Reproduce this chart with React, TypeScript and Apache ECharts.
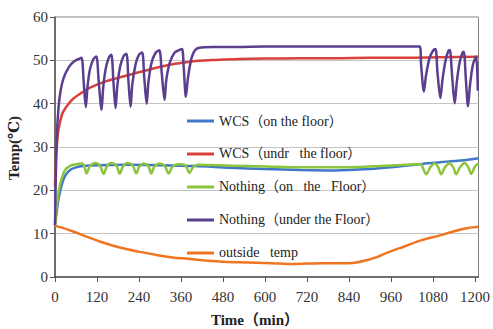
import React, { useEffect, useRef } from "react";
import * as echarts from "echarts";

const seriesNames = [
  "WCS（on the floor）",
  "WCS（undr   the floor）",
  "Nothing（on   the   Floor）",
  "Nothing（under the Floor）",
  "outside   temp",
];

const seriesColors = ["#3f78c6", "#d8403a", "#8cc43e", "#5b3f8e", "#ef7521"];

const xTicks = [0, 120, 240, 360, 480, 600, 720, 840, 960, 1080, 1200];
const yTicks = [0, 10, 20, 30, 40, 50, 60];

const wcsOnFloor: number[][] = [
  [0, 12], [5, 15], [10, 18], [20, 21.5], [30, 23.5], [45, 24.8], [60, 25.3], [80, 25.6],
  [120, 25.8], [200, 25.9], [300, 25.8], [400, 25.6], [500, 25.2], [600, 24.9], [700, 24.7],
  [800, 24.6], [900, 24.9], [960, 25.3], [1000, 25.7], [1050, 26.1], [1100, 26.5],
  [1150, 26.8], [1210, 27.4],
];

const wcsUnderFloor: number[][] = [
  [0, 21], [2, 26], [5, 30], [10, 34], [20, 37.5], [30, 39], [50, 41], [76, 42.5],
  [100, 43.7], [147, 45.2], [200, 46.4], [242, 47.3], [290, 48.3], [336, 49.1],
  [380, 49.6], [410, 49.9], [460, 50.1], [526, 50.3], [600, 50.4], [700, 50.5],
  [800, 50.5], [900, 50.6], [1000, 50.6], [1100, 50.7], [1210, 50.8],
];

const nothingOnFloor: number[][] = [
  [0, 12], [5, 16], [10, 19.5], [20, 23], [30, 24.8], [45, 25.7], [60, 26], [78, 26.2],
  [84, 25.5], [90, 23.9], [100, 25.6], [115, 26.3], [128, 25.8], [139, 23.8], [148, 25.5],
  [160, 26.3], [175, 25.8], [185, 23.8], [194, 25.5], [207, 26.3], [222, 25.8], [232, 23.9],
  [241, 25.5], [253, 26.2], [266, 25.7], [275, 23.9], [284, 25.5], [298, 26.2], [313, 25.7],
  [325, 23.9], [335, 25.4], [350, 26], [372, 25.8], [384, 24], [394, 25.3], [410, 25.9],
  [500, 25.7], [600, 25.5], [700, 25.3], [800, 25.3], [900, 25.5], [1000, 25.9],
  [1045, 26.1], [1052, 25], [1061, 23.7], [1072, 25.3], [1085, 26.2], [1095, 25.3],
  [1103, 23.7], [1114, 25.3], [1127, 26.2], [1138, 25.3], [1146, 23.7], [1157, 25.3],
  [1170, 26.3], [1181, 25.3], [1189, 23.8], [1200, 25.5], [1210, 26.2],
];

const nothingUnderFloor: number[][] = [
  [0, 12], [2, 22], [5, 32], [10, 39], [16, 43], [25, 46], [40, 48.5], [55, 49.8],
  [70, 50.4], [76, 50.6], [82, 45], [88, 39.2], [93, 44], [100, 48], [110, 50.3],
  [118, 50.9], [125, 45], [133, 38.6], [138, 44], [146, 48.5], [155, 50.8], [161, 51.3],
  [167, 45], [173, 39], [178, 44], [186, 48.5], [196, 51], [204, 51.5], [210, 45],
  [216, 39.3], [221, 44.5], [230, 49], [240, 51.3], [249, 51.8], [255, 46], [262, 40],
  [267, 45], [276, 49.5], [288, 51.8], [298, 52.3], [305, 47], [313, 40.9], [318, 45.5],
  [328, 49.5], [342, 51.8], [356, 52.4], [363, 52.6], [368, 48], [374, 41.6], [380, 46],
  [390, 50.5], [400, 52.3], [412, 52.9], [450, 53.1], [520, 53.1], [600, 53.2],
  [700, 53.2], [800, 53.2], [900, 53.2], [1000, 53.2], [1042, 53.2], [1046, 49],
  [1054, 42.8], [1060, 46.5], [1070, 50.5], [1080, 52.2], [1087, 52.6], [1093, 47],
  [1101, 41.3], [1107, 45.5], [1116, 50], [1124, 52.2], [1128, 52.4], [1135, 46],
  [1142, 40.1], [1148, 45], [1156, 49.5], [1164, 51.7], [1168, 52], [1174, 45.5],
  [1180, 39.4], [1186, 44.5], [1194, 49], [1203, 50.9], [1208, 43],
];

const outsideTemp: number[][] = [
  [0, 11.8], [20, 11.4], [52, 10.5], [90, 9.3], [128, 8.2], [185, 6.8], [242, 5.8],
  [290, 5.1], [336, 4.5], [380, 4.2], [431, 3.8], [480, 3.5], [526, 3.4], [575, 3.3],
  [620, 3.2], [677, 3.0], [720, 3.1], [762, 3.2], [800, 3.2], [839, 3.2], [865, 3.4],
  [886, 3.8], [920, 4.6], [952, 5.7], [1000, 7.1], [1047, 8.5], [1095, 9.5], [1125, 10.2],
  [1151, 10.8], [1180, 11.3], [1199, 11.5], [1210, 11.6],
];

const allData = [wcsOnFloor, wcsUnderFloor, nothingOnFloor, nothingUnderFloor, outsideTemp];

const FONT = "'Liberation Serif', 'DejaVu Serif', 'Noto Sans CJK JP', serif";

export default function App() {
  const ref = useRef<HTMLDivElement>(null);
  useEffect(() => {
    if (!ref.current) return;
    const chart = echarts.init(ref.current, undefined, { renderer: "svg" });
    chart.setOption({
      animation: false,
      grid: {
        left: 55,
        top: 17,
        right: 12,
        bottom: 52,
        show: true,
        borderColor: "#7f7f7f",
        borderWidth: 1,
      },
      legend: {
        orient: "vertical",
        left: 187,
        top: 114,
        padding: 0,
        itemGap: 19,
        itemWidth: 27,
        itemHeight: 3,
        icon: "rect",
        data: seriesNames,
        textStyle: { fontFamily: FONT, fontSize: 14, color: "#222" },
        selectedMode: false,
      },
      xAxis: {
        type: "value",
        min: 0,
        max: 1210,
        interval: 120,
        axisLine: { show: true, lineStyle: { color: "#555", width: 1.5 } },
        axisTick: { show: true, length: 5, lineStyle: { color: "#555" } },
        splitLine: { show: false },
        axisLabel: {
          fontFamily: FONT,
          fontSize: 15,
          color: "#333",
          margin: 12,
          showMaxLabel: false,
          formatter: (v: number) => (xTicks.includes(v) ? String(v) : ""),
        },
      },
      yAxis: {
        type: "value",
        min: 0,
        max: 60,
        interval: 10,
        axisLine: { show: true, lineStyle: { color: "#555", width: 1.5 } },
        axisTick: { show: true, length: 5, lineStyle: { color: "#555" } },
        splitLine: { show: true, lineStyle: { color: "#c4c4c4", width: 1 } },
        axisLabel: {
          fontFamily: FONT,
          fontSize: 15,
          color: "#333",
          margin: 7,
          formatter: (v: number) => (yTicks.includes(v) ? String(v) : ""),
        },
      },
      graphic: [
        {
          type: "text",
          x: 255,
          y: 320,
          style: {
            text: "Time（min）",
            fontFamily: FONT,
            fontSize: 15,
            fontWeight: "bold",
            fill: "#222",
            align: "center",
            verticalAlign: "middle",
          },
        },
        {
          type: "text",
          x: 14,
          y: 148,
          rotation: Math.PI / 2,
          style: {
            text: "Temp(℃)",
            fontFamily: FONT,
            fontSize: 15,
            fontWeight: "bold",
            fill: "#222",
            align: "center",
            verticalAlign: "middle",
          },
        },
      ],
      series: seriesNames.map((name, i) => ({
        name,
        type: "line",
        data: allData[i],
        showSymbol: false,
        symbol: "none",
        smooth: 0.3,
        lineStyle: { color: seriesColors[i], width: 2.5 },
        itemStyle: { color: seriesColors[i] },
      })),
    });
    return () => chart.dispose();
  }, []);
  return <div ref={ref} style={{ width: 493, height: 329, position: "absolute", left: 0, top: 0 }} />;
}
